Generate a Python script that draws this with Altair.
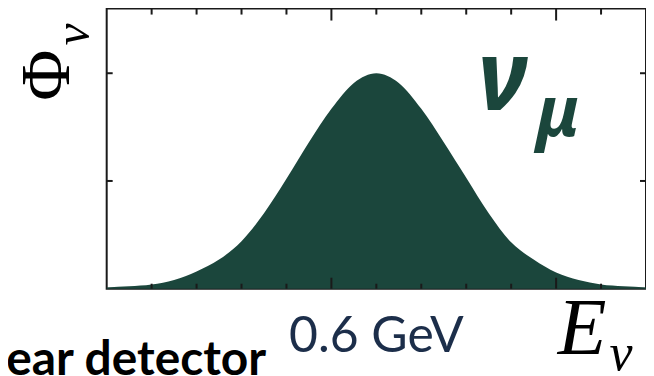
import altair as alt
import pandas as pd

# Spectrum (E in GeV, flux normalised to peak = 1)
energy = [0.00, 0.05, 0.10, 0.15, 0.20, 0.25, 0.30, 0.35, 0.40, 0.45, 0.50, 0.55, 0.60,
          0.65, 0.70, 0.75, 0.80, 0.85, 0.90, 0.95, 1.00, 1.05, 1.10, 1.15, 1.20]
flux = [0.006, 0.011, 0.019, 0.040, 0.080, 0.135, 0.220, 0.350, 0.510, 0.680, 0.835, 0.955, 1.000,
        0.955, 0.835, 0.680, 0.515, 0.350, 0.215, 0.135, 0.075, 0.040, 0.019, 0.011, 0.006]

minor_x = [0.1, 0.2, 0.3, 0.4, 0.6, 0.7, 0.8, 0.9, 1.1]
major_x = [0.5, 1.0]
y_ticks = [0.5, 1.0]

W, H = 541, 281
GREEN = "#1b463c"
NAVY = "#1c2e4a"

xs = alt.Scale(domain=[0, 1.2], nice=False, zero=False)
ys = alt.Scale(domain=[0, 1.3], nice=False, zero=False)

spec = pd.DataFrame({"E": energy, "F": flux})
area = alt.Chart(spec).mark_area(color=GREEN, interpolate="monotone").encode(
    x=alt.X("E:Q", scale=xs, axis=None),
    y=alt.Y("F:Q", scale=ys, axis=None),
)

minor_df = pd.DataFrame({"t": minor_x})
major_df = pd.DataFrame({"t": major_x})
ytick_df = pd.DataFrame({"t": y_ticks})
tick_style = dict(color="#1a1a1a", strokeWidth=2)

bot_minor = alt.Chart(minor_df).mark_rule(**tick_style).encode(
    x=alt.X("t:Q", scale=xs), y=alt.value(H), y2=alt.value(H - 5))
bot_major = alt.Chart(major_df).mark_rule(**tick_style).encode(
    x=alt.X("t:Q", scale=xs), y=alt.value(H), y2=alt.value(H - 11))
top_minor = alt.Chart(minor_df).mark_rule(**tick_style).encode(
    x=alt.X("t:Q", scale=xs), y=alt.value(0), y2=alt.value(6))
top_major = alt.Chart(major_df).mark_rule(**tick_style).encode(
    x=alt.X("t:Q", scale=xs), y=alt.value(0), y2=alt.value(12))
left_t = alt.Chart(ytick_df).mark_rule(**tick_style).encode(
    y=alt.Y("t:Q", scale=ys), x=alt.value(0), x2=alt.value(6))
right_t = alt.Chart(ytick_df).mark_rule(**tick_style).encode(
    y=alt.Y("t:Q", scale=ys), x=alt.value(W), x2=alt.value(W - 6))

def txt(s, x, y, size, font, color="black", weight="normal", style="normal", angle=0,
        align="center", baseline="middle"):
    kw = dict(text=s, fontSize=size, font=font, color=color, fontWeight=weight,
              fontStyle=style, align=align, baseline=baseline)
    if angle:
        kw["angle"] = angle
    return alt.Chart(pd.DataFrame({"a": [0]})).mark_text(**kw).encode(
        x=alt.value(x), y=alt.value(y))

gev = alt.Chart(pd.DataFrame({"E": [0.6], "s": ["0.6 GeV"]})).mark_text(
    fontSize=50, font="Lato", color=NAVY, baseline="middle").encode(
    x=alt.X("E:Q", scale=xs), y=alt.value(329), text="s:N")

phi = txt("Φ", -59, 67, 70, "Liberation Serif", angle=270)
phi_nu = txt("ν", -33, 26, 50, "Liberation Serif", style="italic", angle=270)
e_lab = txt("E", 477, 323, 80, "Liberation Serif", style="italic")
e_nu = txt("ν", 516, 347, 52, "Liberation Serif", style="italic")
nu = txt("ν", 397, 73, 98, "Noto Sans", color=GREEN, weight="bold", style="italic")
mu = txt("μ", 453, 107, 70, "Noto Sans", color=GREEN, weight="bold", style="italic")
near = txt("Near detector", 160, 368, 48, "Lato", weight="bold", align="right",
           baseline="alphabetic")

chart = alt.layer(
    area, bot_minor, bot_major, top_minor, top_major, left_t, right_t,
    gev, phi, phi_nu, e_lab, e_nu, nu, mu, near
).properties(
    width=W, height=H,
    autosize=alt.AutoSizeParams(type="none"),
    padding={"left": 99, "top": 0, "right": 0, "bottom": 90},
).configure_view(stroke="#1a1a1a", strokeWidth=2)

chart.save("out.html", embed_options={"renderer": "svg", "actions": False})
